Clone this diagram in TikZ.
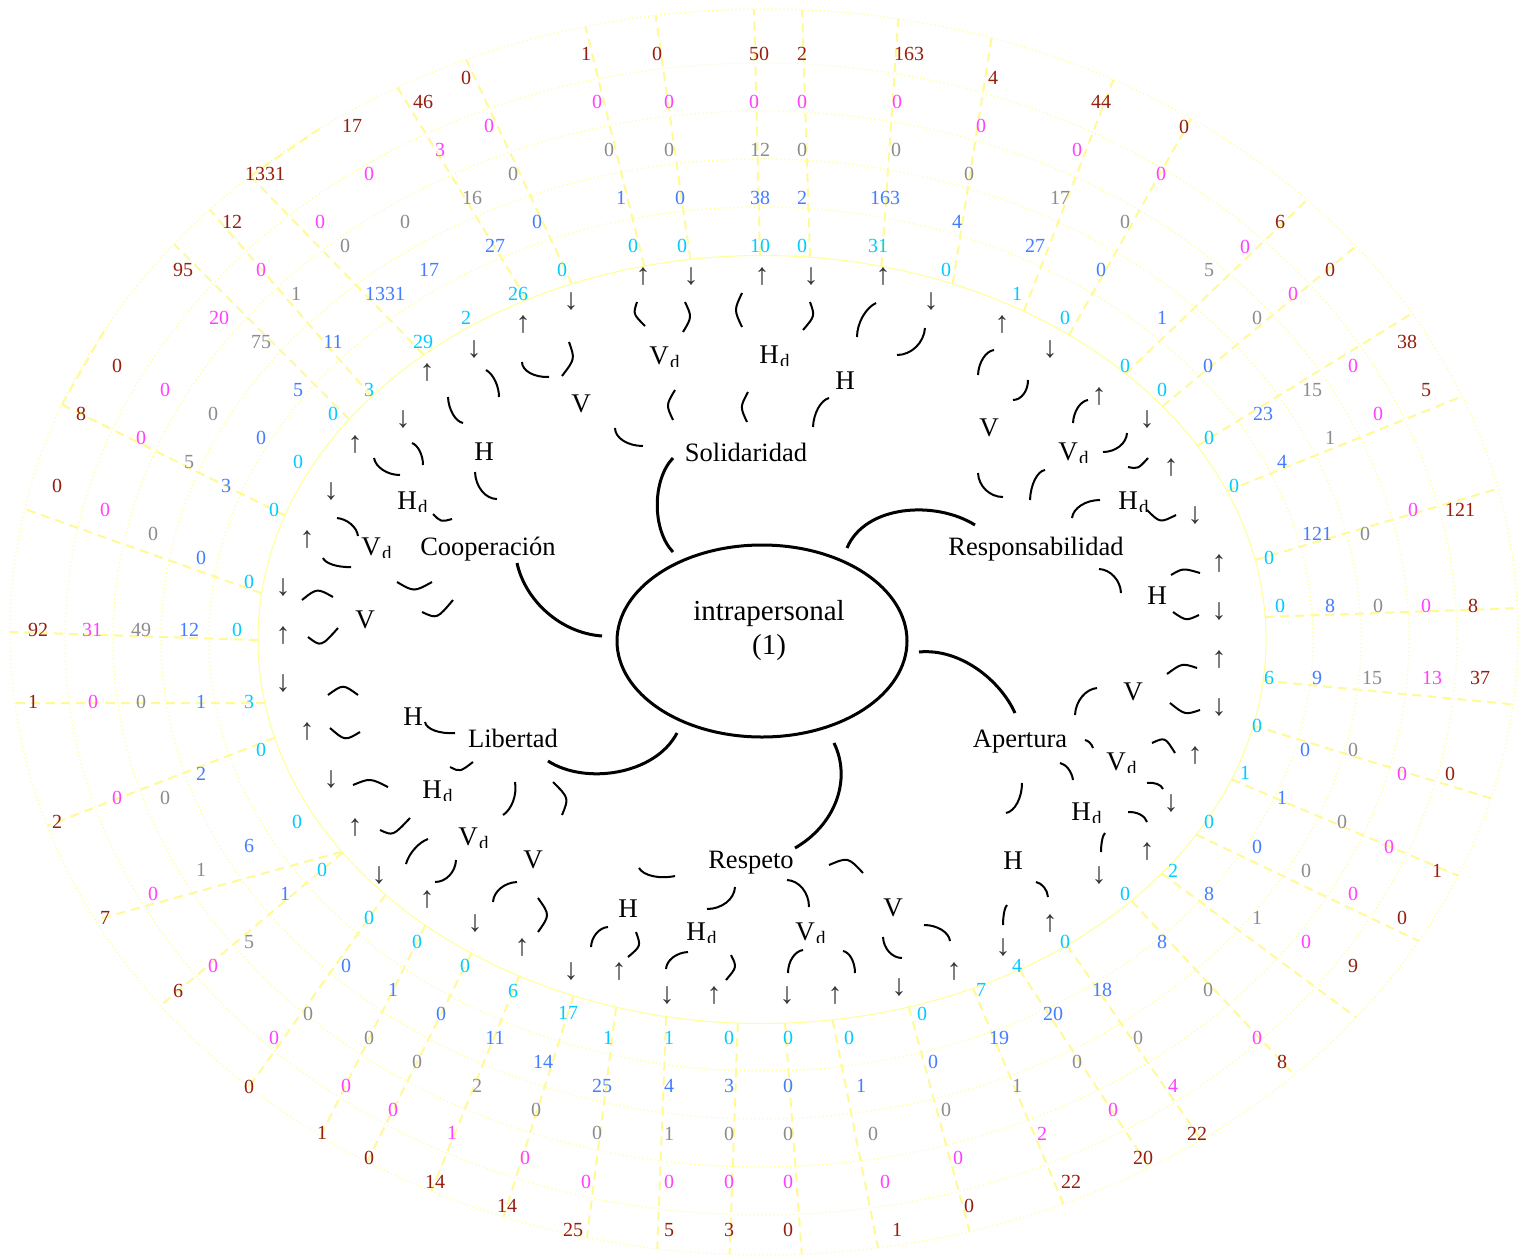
\documentclass[tikz,border=0pt]{standalone}
\usepackage{fontspec}
\setmainfont{Liberation Serif}
\usetikzlibrary{calc,shapes.geometric,intersections}
\definecolor{cCy}{RGB}{0,204,255}
\definecolor{cBl}{RGB}{68,126,255}
\definecolor{cGr}{RGB}{140,140,140}
\definecolor{cMa}{RGB}{255,64,255}
\definecolor{cRd}{RGB}{150,30,15}
\definecolor{ringcol}{RGB}{255,255,150}
\definecolor{radcol}{RGB}{255,250,150}
\pgfdeclarelayer{bg}
\pgfsetlayers{bg,main}
\tikzset{
 num/.style={font=\fontsize{20}{20}\selectfont, inner sep=0pt},
 arr/.style={font=\fontsize{30}{30}\selectfont, inner sep=0pt, text=black!80},
 lab/.style={font=\fontsize{27}{27}\selectfont, inner sep=0pt},
 subd/.style={font=\fontsize{19}{19}\selectfont, inner sep=0pt},
 cat/.style={font=\fontsize{26.5}{30}\selectfont, inner sep=0pt, anchor=base},
 ringline/.style={draw=ringcol, line width=1.2pt, dash pattern=on 1.2pt off 2.8pt},
 ringzero/.style={draw=ringcol, line width=1pt},
 radline/.style={draw=radcol, line width=2pt, dash pattern=on 9pt off 6pt},
 conn/.style={draw=black, line width=3pt},
 sarc/.style={draw=black, line width=2pt},
}
\newcommand\dlab[4]{%
  \node[lab] (#1) at (#2,#3) {#4};
  \begin{scope}
    \clip (#2+8,#3-12) rectangle (#2+32,#3+10.5);
    \node[subd, anchor=north west] (#1d) at (#2+11,#3-0.5) {d};
  \end{scope}}
\newcommand\arcQ[3]{\draw[sarc] (#1) .. controls ($(#1)!0.55!(#2)$) and ($(#3)!0.55!(#2)$) .. (#3);}
\newcommand\arcB[3]{\draw[sarc] (#1) .. controls (#2) .. (#3);}
\begin{document}
\begin{tikzpicture}[x=1pt,y=-1pt]
\begin{pgfonlayer}{bg}
\fill[white] (0,0) rectangle (1522,1258);
\end{pgfonlayer}
\useasboundingbox (0,0) rectangle (1522,1258);
% rings
\draw[ringzero, name path=innerR] (762,639.5) ellipse [x radius=504, y radius=384];
\draw[ringline] (761,639) ellipse [x radius=552, y radius=432];
\draw[ringline] (761,639) ellipse [x radius=600, y radius=480];
\draw[ringline] (761,639) ellipse [x radius=648, y radius=528];
\draw[ringline] (761,639) ellipse [x radius=696, y radius=576];
\draw[ringline, name path=outerR] (764,632) ellipse [x radius=754, y radius=623];
% spokes: a point near the inner ring, a point near the outer ring
\foreach \i/\px/\py/\qx/\qy in {
1/642/257/587/33, 2/690/257/658/32, 3/760/257/754/7, 4/810/257/802/8,
5/882/257/897/37, 6/953/282/992/35, 7/1027/303/1114/78, 8/1073/328/1183/133,
9/1140/360/1307/200, 10/1170/400/1355/247, 11/1223/430/1398/322, 12/1217/495/1473/392,
13/1255/560/1497/489, 14/1263/617/1522/608, 15/1257/680/1520/705, 16/1258/727/1490/798,
17/1240/783/1452/873, 18/1193/833/1427/945, 19/1168/878/1353/1015, 20/1125/894/1282/1062,
21/1065/942/1197/1134, 22/1017/966/1143/1158, 23/978/1000/1065/1208, 24/907/1000/970/1233,
25/833/1022/875/1233, 26/785/1023/802/1257, 27/738/1017/730/1243, 28/666/1022/658/1230,
29/617/1000/587/1237, 30/568/1013/507/1206, 31/513/991/435/1182, 32/465/966/369/1158,
33/417/942/322/1133, 34/369/918/249/1087, 35/322/870/178/991, 36/330/855/113/915,
37/282/735/57/822, 38/275/703/35/703, 39/258/640/10/632, 40/258/592/33/512,
41/274/510/81/414, 42/242/427/128/343, 43/353/423/178/248, 44/377/403/230/233,
45/390/320/257/183, 46/390/213/323/130, 47/527/300/393/80, 48/570/280/465/57}{
  \begin{pgfonlayer}{bg}
    \coordinate (p\i) at (\px,\py);
    \coordinate (q\i) at (\qx,\qy);
    \path[name path=spoke] ($(p\i)!-0.3!(q\i)$) -- ($(q\i)!-0.6!(p\i)$);
    \path[name intersections={of=innerR and spoke, by=si}];
    \path[name intersections={of=outerR and spoke, by=so}];
    \draw[radline] (si) -- (so);
  \end{pgfonlayer}
}
% numbers and arrows
\foreach \i/\xc/\yc/\nc/\xb/\yb/\nb/\xg/\yg/\ng/\xm/\ym/\nm/\xr/\yr/\nr/\xa/\ya/\ar in {
1/633/246/0/621/198/1/609/150/0/597/102/0/586/54/1/643/277/↑,
2/682/246/0/680/198/0/669/150/0/669/102/0/657/54/0/691/277/↓,
3/760/246/10/760/198/38/760/150/12/754/102/0/759/54/50/762/277/↑,
4/802/246/0/802/198/2/802/150/0/802/102/0/802/54/2/811/277/↓,
5/878/246/31/885/198/163/896/150/0/897/102/0/909/54/163/883/277/↑,
6/946/270/0/957/222/4/969/174/0/981/126/0/993/78/4/931/302/↓,
7/1017/294/1/1035/246/27/1060/198/17/1077/150/0/1101/102/44/1002/325/↑,
8/1065/318/0/1101/270/0/1125/222/0/1161/174/0/1184/127/0/1050/350/↓,
9/1125/366/0/1162/318/1/1209/270/5/1245/247/0/1280/222/6/1099/397/↑,
10/1162/390/0/1208/366/0/1257/318/0/1293/294/0/1330/270/0/1147/420/↓,
11/1209/438/0/1263/414/23/1312/390/15/1353/366/0/1407/342/38/1171/468/↑,
12/1234/486/0/1282/462/4/1330/438/1/1378/414/0/1426/390/5/1195/516/↓,
13/1269/558/0/1317/534/121/1365/534/0/1413/510/0/1460/510/121/1219/564/↑,
14/1280/606/0/1330/606/8/1378/606/0/1426/606/0/1473/606/8/1219/612/↓,
15/1269/678/6/1317/678/9/1372/678/15/1432/678/13/1480/678/37/1219/660/↑,
16/1257/726/0/1305/750/0/1353/750/0/1402/774/0/1450/774/0/1219/708/↓,
17/1245/773/1/1282/798/1/1342/822/0/1389/847/0/1437/871/1/1195/756/↑,
18/1209/822/0/1257/847/0/1306/871/0/1353/894/0/1402/918/0/1171/804/↓,
19/1173/871/2/1209/894/8/1257/918/1/1306/942/0/1353/966/9/1147/852/↑,
20/1125/894/0/1162/942/8/1208/990/0/1257/1038/0/1282/1062/8/1099/876/↓,
21/1065/942/0/1102/990/18/1138/1038/0/1173/1086/4/1197/1134/22/1050/924/↑,
22/1017/966/4/1053/1014/20/1077/1062/0/1113/1110/0/1143/1158/20/1003/948/↓,
23/981/990/7/999/1038/19/1017/1086/1/1042/1134/2/1071/1182/22/954/972/↑,
24/922/1014/0/933/1062/0/946/1110/0/958/1158/0/969/1206/0/899/988/↓,
25/849/1038/0/861/1086/1/873/1134/0/885/1182/0/897/1230/1/835/996/↑,
26/788/1038/0/788/1086/0/788/1134/0/788/1182/0/788/1230/0/787/996/↓,
27/729/1038/0/729/1086/3/729/1134/0/729/1182/0/729/1230/3/714/996/↑,
28/669/1038/1/669/1086/4/669/1134/1/669/1182/0/669/1230/5/667/996/↓,
29/608/1038/1/602/1086/25/597/1133/0/586/1182/0/573/1230/25/619/972/↑,
30/568/1013/17/543/1062/14/536/1110/0/525/1158/0/507/1206/14/571/972/↓,
31/513/991/6/495/1038/11/477/1086/2/452/1133/1/435/1182/14/522/948/↑,
32/465/966/0/441/1014/0/417/1062/0/393/1110/0/369/1158/0/475/924/↓,
33/417/942/0/393/990/1/369/1038/0/346/1086/0/322/1133/1/427/900/↑,
34/369/918/0/346/966/0/308/1014/0/274/1038/0/249/1087/0/379/876/↓,
35/322/870/0/285/894/1/249/942/5/213/966/0/178/991/6/355/828/↑,
36/297/822/0/249/846/6/201/870/1/153/894/0/105/918/7/331/780/↓,
37/261/750/0/201/774/2/165/798/0/117/798/0/57/822/2/307/732/↑,
38/249/702/3/201/702/1/141/702/0/93/702/0/33/702/1/283/684/↓,
39/237/630/0/189/630/12/141/630/49/92/630/31/38/630/92/283/636/↑,
40/249/582/0/201/558/0/153/534/0/105/510/0/57/486/0/283/588/↓,
41/274/510/0/226/486/3/189/462/5/141/438/0/81/414/8/307/540/↑,
42/298/462/0/261/438/0/213/414/0/165/390/0/117/366/0/331/492/↓,
43/333/414/0/298/390/5/261/342/75/219/318/20/183/270/95/355/445/↑,
44/369/390/3/333/342/11/296/294/1/261/270/0/232/222/12/403/420/↓,
45/423/342/29/385/294/1331/345/246/0/320/222/0/265/174/1331/427/373/↑,
46/466/318/2/429/270/17/405/222/0/369/174/0/352/126/17/474/350/↓,
47/518/294/26/495/246/27/472/198/16/440/150/3/423/102/46/523/325/↑,
48/562/270/0/537/222/0/513/174/0/489/126/0/466/78/0/571/302/↓}{
  \node[num,text=cCy] (c\i) at (\xc,\yc) {\nc};
  \node[num,text=cBl] (b\i) at (\xb,\yb) {\nb};
  \node[num,text=cGr] (g\i) at (\xg,\yg) {\ng};
  \node[num,text=cMa] (m\i) at (\xm,\ym) {\nm};
  \node[num,text=cRd] (r\i) at (\xr,\yr) {\nr};
  \node[arr] (a\i) at (\xa,\ya) {\ar};
}
% centre
\node[draw, ellipse, line width=3pt, minimum width=290pt, minimum height=192pt, inner sep=0pt] (core) at (762,641) {};
\node[font=\fontsize{29}{34}\selectfont, inner sep=0pt, anchor=base] (coreA) at (769,620) {intrapersonal};
\node[font=\fontsize{29}{34}\selectfont, inner sep=0pt, anchor=base] (coreB) at (769,654) {(1)};
% categories
\node[cat] (sol) at (746,461) {Solidaridad};
\node[cat] (coop) at (488,555) {Cooperación};
\node[cat] (lib) at (513,747) {Libertad};
\node[cat] (resp) at (1036,555) {Responsabilidad};
\node[cat] (aper) at (1020,747) {Apertura};
\node[cat] (rspt) at (751,868) {Respeto};
% thick connectors
\draw[conn] (673,552) .. controls (652,530) and (652,480) .. (673,458);
\draw[conn] (517,563) .. controls (525,600) and (560,633) .. (602,636);
\draw[conn] (677,733) .. controls (655,775) and (585,785) .. (548,761);
\draw[conn] (847,548) .. controls (865,505) and (935,500) .. (975,525);
\draw[conn] (919,652) .. controls (960,648) and (1000,680) .. (1015,713);
\draw[conn] (834,743) .. controls (852,780) and (835,825) .. (795,848);
% sub labels
\node[lab] (solV) at (581,404) {V};
\dlab{solVd}{659}{356}{V}
\dlab{solHd}{769}{355}{H}
\node[lab] (solH) at (845,381) {H};
\node[lab] (coopH) at (484,452) {H};
\dlab{coopHd}{407}{501}{H}
\dlab{coopVd}{371}{547}{V}
\node[lab] (coopV) at (365,620) {V};
\node[lab] (libH) at (413,717) {H};
\dlab{libHd}{432}{790}{H}
\dlab{libVd}{468}{837}{V}
\node[lab] (libV) at (533,860) {V};
\node[lab] (rsptH) at (628,909) {H};
\dlab{rsptHd}{696}{932}{H}
\dlab{rsptVd}{805}{932}{V}
\node[lab] (rsptV) at (893,908) {V};
\node[lab] (aperH) at (1013,861) {H};
\dlab{aperHd}{1081}{812}{H}
\dlab{aperVd}{1116}{762}{V}
\node[lab] (aperV) at (1133,692) {V};
\node[lab] (respH) at (1157,596) {H};
\dlab{respHd}{1128}{501}{H}
\dlab{respVd}{1068}{452}{V}
\node[lab] (respV) at (989,428) {V};
% small arcs: Solidaridad
\arcQ{522,362}{522,378}{549,377}
\arcB{569,342}{575,359}{562,376}
\arcQ{615,428}{615,446}{643,446}
\arcB{637,302}{633,314}{645,326}
\arcB{685,302}{692,317}{683,332}
\arcB{675,390}{666,405}{673,420}
\arcB{742,293}{734,310}{742,327}
\arcB{810,302}{815,316}{803,330}
\arcB{748,392}{740,407}{747,422}
\arcQ{876,303}{857,312}{857,337}
\arcQ{925,328}{923,355}{897,355}
\arcQ{829,398}{814,402}{813,427}
% Cooperacion
\arcQ{486,370}{499,377}{499,397}
\arcQ{448,397}{449,420}{463,423}
\arcQ{475,472}{476,499}{497,499}
\arcQ{412,443}{423,447}{423,465}
\arcQ{374,458}{377,475}{400,475}
\arcB{433,514}{441,522}{452,519}
\arcQ{337,518}{356,520}{358,536}
\arcQ{323,558}{327,568}{351,567}
\arcB{397,582}{414,592}{432,582}
\arcB{302,600}{317,588}{333,597}
\arcB{308,637}{321,647}{338,628}
\arcB{422,612}{437,619}{453,600}
% Libertad
\arcB{328,695}{343,684}{358,695}
\arcB{330,728}{345,741}{360,732}
\arcQ{425,722}{427,735}{455,733}
\arcB{353,785}{370,778}{388,787}
\arcB{380,830}{393,836}{410,818}
\arcB{450,767}{460,772}{473,762}
\arcQ{406,864}{411,845}{428,839}
\arcQ{456,860}{455,882}{435,882}
\arcQ{515,782}{519,805}{503,815}
\arcQ{517,882}{494,883}{493,902}
\arcB{538,898}{550,915}{538,932}
\arcB{553,782}{569,798}{562,815}
% Respeto
\arcQ{639,868}{647,882}{675,876}
\arcQ{608,927}{592,928}{591,947}
\arcB{636,932}{641,946}{628,957}
\arcQ{735,887}{734,909}{707,909}
\arcQ{688,952}{667,953}{666,969}
\arcB{731,955}{737,967}{726,980}
\arcQ{787,880}{809,881}{809,907}
\arcQ{803,950}{788,952}{788,973}
\arcQ{843,951}{855,953}{855,973}
\arcB{829,865}{848,857}{863,873}
\arcQ{883,937}{884,958}{902,958}
\arcQ{924,925}{948,925}{950,941}
% Apertura
\arcQ{1022,783}{1022,810}{1006,813}
\arcQ{1007,905}{1003,908}{1003,925}
\arcQ{1036,882}{1047,884}{1048,897}
\arcQ{1060,763}{1071,765}{1073,780}
\arcQ{1105,833}{1101,836}{1101,852}
\arcQ{1128,812}{1144,811}{1147,822}
\arcQ{1085,740}{1091,741}{1093,748}
\arcB{1152,743}{1165,737}{1175,753}
\arcQ{1147,783}{1160,781}{1163,789}
\arcQ{1097,688}{1076,690}{1075,715}
\arcB{1167,674}{1182,663}{1197,668}
\arcB{1170,703}{1185,715}{1200,710}
% Responsabilidad
\arcQ{1099,569}{1120,570}{1121,593}
\arcB{1171,575}{1183,568}{1200,573}
\arcB{1173,612}{1186,621}{1199,615}
\arcQ{1072,518}{1074,500}{1100,500}
\arcB{1147,510}{1160,523}{1176,515}
\arcB{1128,467}{1138,469}{1148,458}
\arcQ{1045,470}{1031,472}{1030,500}
\arcQ{1088,400}{1074,402}{1073,423}
\arcQ{1127,433}{1126,452}{1103,452}
\arcQ{978,473}{979,497}{1003,497}
\arcQ{994,350}{979,352}{978,375}
\arcQ{1028,380}{1028,400}{1013,400}
\end{tikzpicture}
\end{document}
